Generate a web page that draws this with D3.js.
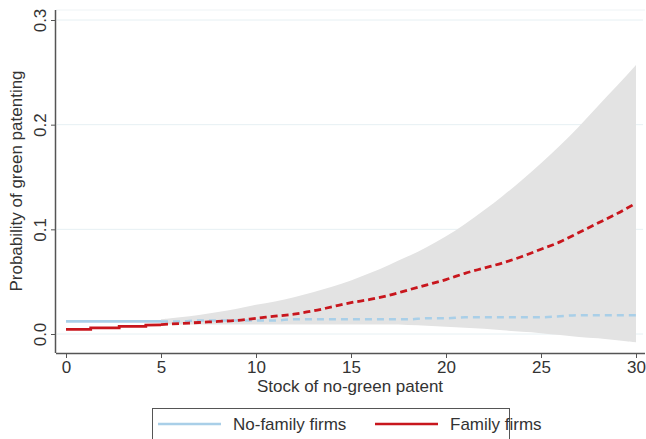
<!DOCTYPE html>
<html><head><meta charset="utf-8">
<script src="https://cdn.jsdelivr.net/npm/d3@7"></script>
<style>body{margin:0;background:#fff}svg{display:block}text{font-family:"Liberation Sans",Arial,sans-serif;fill:#333}</style>
</head><body><svg id="c" width="646" height="439"></svg>
<script>
const xTicks = [0,5,10,15,20,25,30];
const yTicks = [0,0.1,0.2,0.3];
const yTickLabels = ["0.0","0.1","0.2","0.3"];
const seriesNames = ["No-family firms","Family firms"];
// observed range (solid)
const xSolid = [0,1.3,1.3,2.8,2.8,4.2,4.2,5];
const noFamilySolid = [0.012,0.012,0.012,0.012,0.012,0.012,0.012,0.012];
const familySolid = [0.0045,0.0045,0.0058,0.0058,0.0072,0.0072,0.0085,0.0088];
// projected range (dashed)
const xDash = [5,6,7,8,9,10,11,12,13,14,15,16,17,18,19,20,21,22,23,24,25,26,27,28,29,30];
const noFamilyDash = [0.012,0.012,0.013,0.013,0.013,0.013,0.013,0.014,0.014,0.014,0.014,0.014,0.014,0.014,0.015,0.015,0.016,0.016,0.016,0.016,0.016,0.017,0.018,0.018,0.018,0.018];
const familyDash = [0.009,0.010,0.011,0.012,0.013,0.015,0.017,0.019,0.022,0.026,0.030,0.033,0.037,0.042,0.047,0.052,0.058,0.063,0.068,0.074,0.081,0.088,0.097,0.106,0.115,0.125];
const ciUpper = [0.014,0.016,0.018,0.021,0.024,0.028,0.031,0.035,0.040,0.045,0.051,0.058,0.066,0.074,0.083,0.093,0.105,0.118,0.132,0.147,0.163,0.180,0.198,0.218,0.237,0.257];
const ciLower = [0.009,0.009,0.009,0.009,0.009,0.009,0.009,0.009,0.009,0.009,0.009,0.009,0.009,0.0088,0.008,0.007,0.006,0.005,0.0035,0.002,0.001,-0.001,-0.003,-0.004,-0.006,-0.008];

const svg = d3.select("#c");
const x = d3.scaleLinear().domain([0,30]).range([66,636]);
const y = d3.scaleLinear().domain([0,0.3]).range([334,20]);
const plotL = 56, plotR = 645, plotT = 10, plotB = 353;
const FS = 17;

svg.append("line").attr("x1",plotL).attr("x2",plotR).attr("y1",plotT).attr("y2",plotT).attr("stroke","#eef3f5").attr("stroke-width",1);
svg.append("g").selectAll("line").data(yTicks).join("line")
  .attr("x1",plotL+1).attr("x2",plotR-2).attr("y1",d=>y(d)).attr("y2",d=>y(d))
  .attr("stroke","#e6f0f3").attr("stroke-width",1);

const band = xDash.map((v,i)=>({x:v,lo:ciLower[i],hi:ciUpper[i]}));
svg.append("path").datum(band)
  .attr("d",d3.area().x(d=>x(d.x)).y0(d=>y(d.lo)).y1(d=>y(d.hi)).curve(d3.curveBasis))
  .attr("fill","#e3e3e3");

const blue = "#a9cfe8", red = "#c8161d";
const line = d3.line().x(d=>x(d[0])).y(d=>y(d[1])).curve(d3.curveMonotoneX);
const lineLin = d3.line().x(d=>x(d[0])).y(d=>y(d[1]));
const zip = (a,b)=>a.map((v,i)=>[v,b[i]]);
svg.append("path").datum(zip(xSolid,noFamilySolid)).attr("d",lineLin).attr("fill","none").attr("stroke",blue).attr("stroke-width",2.8);
svg.append("path").datum(zip(xDash,noFamilyDash)).attr("d",line).attr("fill","none").attr("stroke",blue).attr("stroke-width",2.5).attr("stroke-dasharray","7,5");
svg.append("path").datum(zip(xSolid,familySolid)).attr("d",lineLin).attr("fill","none").attr("stroke",red).attr("stroke-width",2.8);
svg.append("path").datum(zip(xDash,familyDash)).attr("d",line).attr("fill","none").attr("stroke",red).attr("stroke-width",2.8).attr("stroke-dasharray","7,4");

const ax = "#555";
const gx = svg.append("g").attr("transform",`translate(0,${plotB})`)
  .call(d3.axisBottom(x).tickValues(xTicks).tickSize(5).tickPadding(3).tickSizeOuter(0));
gx.select(".domain").attr("d",`M${plotL},0.5H${plotR}`).attr("stroke",ax).attr("stroke-width",1.5);
gx.selectAll(".tick line").attr("stroke",ax);
gx.selectAll(".tick text").attr("font-size",FS).attr("font-family","Liberation Sans, Arial, sans-serif").attr("fill","#333");

const gy = svg.append("g").attr("transform",`translate(${plotL},0)`)
  .call(d3.axisLeft(y).tickValues(yTicks).tickFormat((d,i)=>yTickLabels[i]).tickSize(5).tickSizeOuter(0));
gy.select(".domain").attr("d",`M-0.5,${plotT}V${plotB}`).attr("stroke",ax).attr("stroke-width",1.5);
gy.selectAll(".tick line").attr("stroke",ax);
gy.selectAll(".tick text").attr("font-size",FS).attr("font-family","Liberation Sans, Arial, sans-serif").attr("fill","#333")
  .attr("transform","rotate(-90)").attr("x",0).attr("y",-10).attr("dy",0).attr("text-anchor","middle");

svg.append("text").attr("x",350).attr("y",392).attr("text-anchor","middle").attr("font-size",FS).text("Stock of no-green patent");
svg.append("text").attr("transform","translate(22,181) rotate(-90)").attr("text-anchor","middle").attr("font-size",FS).text("Probability of green patenting");

svg.append("rect").attr("x",152.5).attr("y",408.5).attr("width",357).attr("height",40).attr("fill","#fff").attr("stroke","#555").attr("stroke-width",1);
const legX = [158,375];
const legCol = [blue,red];
seriesNames.forEach((n,i)=>{
  svg.append("line").attr("x1",legX[i]).attr("x2",legX[i]+63).attr("y1",424).attr("y2",424).attr("stroke",legCol[i]).attr("stroke-width",2.5);
  svg.append("text").attr("x",legX[i]+75).attr("y",430).attr("font-size",FS).text(n);
});
</script></body></html>
